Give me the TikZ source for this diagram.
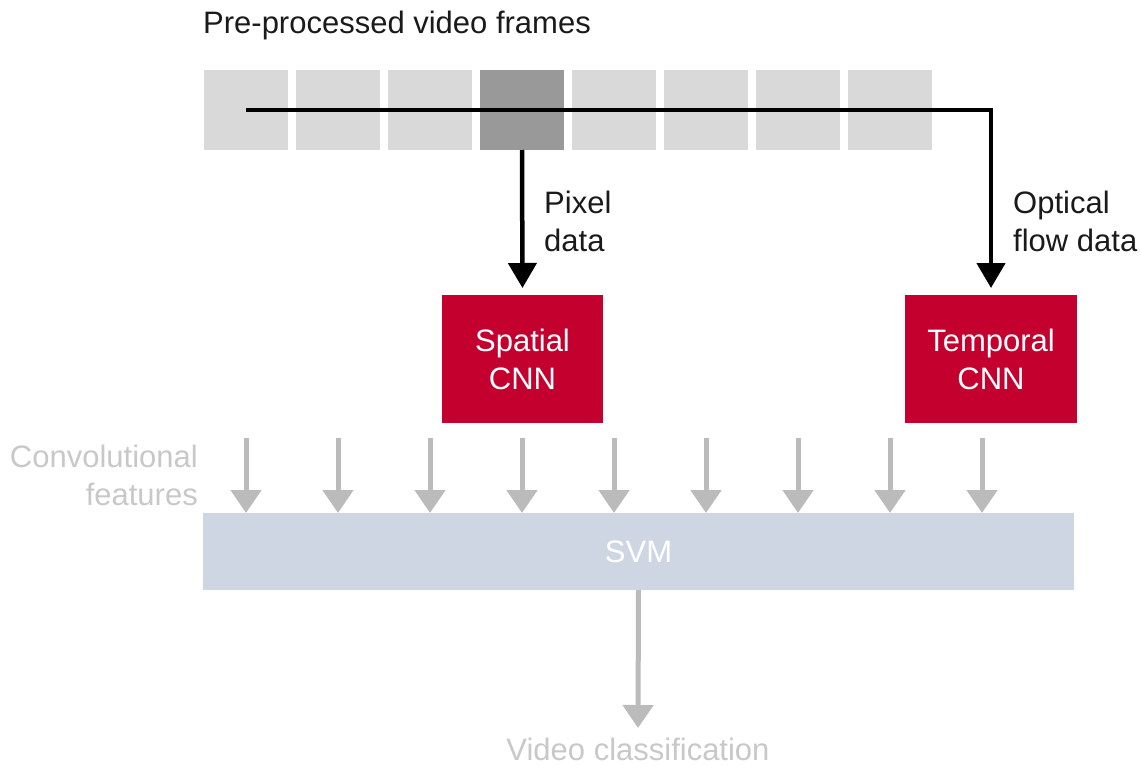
\documentclass[tikz,border=0pt]{standalone}
\usepackage{fontspec}
\setmainfont{Liberation Sans}
\usetikzlibrary{arrows.meta}
\definecolor{framelight}{HTML}{D9D9D9}
\definecolor{framedark}{HTML}{999999}
\definecolor{cnnred}{HTML}{C4002F}
\definecolor{svmblue}{HTML}{CFD6E3}
\definecolor{arrowgrey}{HTML}{BBBBBB}
\definecolor{textgrey}{HTML}{C8C8C8}
\definecolor{darktext}{HTML}{1A1A1A}
\begin{document}
\begin{tikzpicture}[x=1pt,y=-1pt,
  font=\fontsize{31}{38}\selectfont,
  frame/.style={fill=framelight, minimum width=84pt, minimum height=80pt, inner sep=0pt, outer sep=0pt},
  cnnbox/.style={fill=cnnred, text=white, minimum height=128pt, align=center, inner sep=0pt, outer sep=0pt},
  blkarrow/.style={line width=4.5pt, draw=black, -{Triangle[width=28pt,length=25pt]}, shorten >=7pt},
  greyarrow/.style={line width=5pt, draw=arrowgrey, -{Triangle[width=30pt,length=23pt]}},
  lbl/.style={inner sep=0pt, text=darktext}]
\useasboundingbox (0,0) rectangle (1141,766);
% frames
\foreach \i in {1,...,8}{
  \node[frame] (f\i) at ({246+92*(\i-1)},110) {};
}
\node[frame, fill=framedark] (f4) at (522,110) {};
% title
\node[lbl, anchor=base west] (title) at (203,33) {Pre-processed video frames};
% CNN boxes
\node[cnnbox, minimum width=161pt] (spatial) at (522.5,359) {Spatial\\CNN};
\node[cnnbox, minimum width=172pt] (temporal) at (991,359) {Temporal\\CNN};
% black connectors
\draw[blkarrow] (f4.south) -- (spatial.north);
\draw[blkarrow] (f1.center) -| (temporal.north);
% labels
\node[lbl, anchor=west, align=left] (pix) at (544,221) {Pixel\\data};
\node[lbl, anchor=west, align=left] (opt) at (1013,221) {Optical\\flow data};
% SVM
\node[fill=svmblue, minimum width=871pt, minimum height=77pt, inner sep=0pt, outer sep=0pt, text=white] (svm) at (638.5,551.5) {SVM};
% feature arrows
\foreach \i in {0,...,8}{
  \coordinate (g\i) at ({246+92*\i},438);
  \draw[greyarrow] (g\i) -- (g\i |- svm.north);
}
\node[inner sep=0pt, anchor=east, align=right, text=textgrey] (conv) at (198,475) {Convolutional\\features};
% output
\node[inner sep=0pt, anchor=base, text=textgrey] (vc) at (638,760) {Video classification};
\coordinate (vctip) at (638,728);
\draw[greyarrow] (svm.south) -- (vctip);
\end{tikzpicture}
\end{document}
